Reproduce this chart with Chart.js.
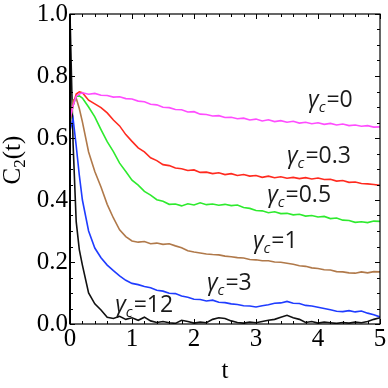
<!DOCTYPE html>
<html>
<head>
<meta charset="utf-8">
<script src="https://cdn.jsdelivr.net/npm/chart.js@4.4.1/dist/chart.umd.min.js"></script>
<style>
  html, body { margin: 0; padding: 0; background: #fff; }
  #wrap { width: 388px; height: 388px; }
</style>
</head>
<body>
<div id="wrap"><canvas id="c2-chart"></canvas></div>
<script>
// time axis (finer near t=0 where the curves peak)
const t = [0, 0.05, 0.1, 0.15, 0.2,
  0.3, 0.4, 0.5, 0.6, 0.7, 0.8, 0.9, 1.0,
  1.1, 1.2, 1.3, 1.4, 1.5, 1.6, 1.7, 1.8, 1.9, 2.0,
  2.1, 2.2, 2.3, 2.4, 2.5, 2.6, 2.7, 2.8, 2.9, 3.0,
  3.1, 3.2, 3.3, 3.4, 3.5, 3.6, 3.7, 3.8, 3.9, 4.0,
  4.1, 4.2, 4.3, 4.4, 4.5, 4.6, 4.7, 4.8, 4.9, 5.0];

const gamma0 = [0.66, 0.705, 0.735, 0.742, 0.746,
  0.741, 0.744, 0.738, 0.737, 0.732, 0.733, 0.727, 0.726,
  0.719, 0.717, 0.709, 0.707, 0.699, 0.698, 0.692, 0.691, 0.684, 0.685,
  0.677, 0.676, 0.671, 0.672, 0.666, 0.667, 0.662, 0.664, 0.658, 0.661,
  0.655, 0.659, 0.653, 0.656, 0.651, 0.654, 0.648, 0.651, 0.646, 0.649,
  0.644, 0.647, 0.642, 0.645, 0.640, 0.642, 0.638, 0.640, 0.635, 0.636];

const gamma03 = [0.66, 0.705, 0.742, 0.749, 0.746,
  0.722, 0.710, 0.698, 0.681, 0.658, 0.639, 0.611, 0.589,
  0.568, 0.555, 0.536, 0.527, 0.514, 0.511, 0.503, 0.501, 0.495, 0.497,
  0.489, 0.490, 0.485, 0.488, 0.482, 0.485, 0.479, 0.482, 0.477, 0.479,
  0.473, 0.477, 0.472, 0.475, 0.470, 0.473, 0.469, 0.472, 0.468, 0.471,
  0.466, 0.467, 0.461, 0.463, 0.457, 0.458, 0.453, 0.452, 0.450, 0.447];

const gamma05 = [0.655, 0.705, 0.735, 0.736, 0.729,
  0.700, 0.668, 0.627, 0.588, 0.556, 0.519, 0.492, 0.464,
  0.448, 0.428, 0.416, 0.401, 0.396, 0.386, 0.387, 0.381, 0.388, 0.384,
  0.391, 0.385, 0.387, 0.383, 0.386, 0.382, 0.384, 0.376, 0.373, 0.366,
  0.365, 0.359, 0.362, 0.356, 0.357, 0.352, 0.354, 0.348, 0.350, 0.345,
  0.347, 0.340, 0.342, 0.335, 0.334, 0.328, 0.330, 0.327, 0.332, 0.331];

const gamma1 = [0.645, 0.722, 0.728, 0.695, 0.652,
  0.555, 0.492, 0.442, 0.386, 0.342, 0.304, 0.282, 0.268,
  0.264, 0.266, 0.259, 0.261, 0.257, 0.259, 0.252, 0.246, 0.236, 0.232,
  0.229, 0.226, 0.224, 0.223, 0.219, 0.217, 0.214, 0.213, 0.208, 0.207,
  0.204, 0.204, 0.200, 0.199, 0.196, 0.193, 0.188, 0.186, 0.181, 0.179,
  0.175, 0.174, 0.169, 0.168, 0.165, 0.164, 0.168, 0.165, 0.169, 0.168];

const gamma3 = [0.625, 0.662, 0.575, 0.480, 0.400,
  0.300, 0.245, 0.214, 0.190, 0.172, 0.155, 0.141, 0.131,
  0.127, 0.121, 0.117, 0.109, 0.106, 0.099, 0.098, 0.090, 0.086, 0.080,
  0.079, 0.074, 0.077, 0.070, 0.069, 0.065, 0.063, 0.059, 0.058, 0.055,
  0.059, 0.062, 0.067, 0.068, 0.073, 0.067, 0.066, 0.060, 0.058, 0.054,
  0.050, 0.046, 0.041, 0.040, 0.043, 0.039, 0.042, 0.035, 0.030, 0.023];

const gamma12 = [1.0, 0.58, 0.33, 0.24, 0.19,
  0.100, 0.065, 0.045, 0.022, 0.018, 0.025, 0.015, 0.020,
  0.012, 0.022, 0.010, 0.005, 0.008, 0.004, 0.002, 0.012, 0.008, 0.003,
  0.006, 0.004, 0.015, 0.020, 0.018, 0.010, 0.005, 0.003, 0.006, 0.004,
  0.008, 0.012, 0.015, 0.022, 0.028, 0.020, 0.015, 0.005, 0.008, 0.003,
  0.006, 0.004, 0.002, 0.005, 0.003, 0.006, 0.004, 0.008, 0.015, 0.020];

const xTicks = [0, 1, 2, 3, 4, 5];
const yTicks = [0.0, 0.2, 0.4, 0.6, 0.8, 1.0];
const xTickLabels = ['0', '1', '2', '3', '4', '5'];
const yTickLabels = ['0.0', '0.2', '0.4', '0.6', '0.8', '1.0'];

// curve labels: gamma_c value and where its text starts (data coords)
const curveLabels = ['0', '0.3', '0.5', '1', '3', '12'];
const labelX = [3.84, 3.50, 3.18, 2.95, 2.21, 0.73];
const labelY = [0.700, 0.519, 0.394, 0.245, 0.110, 0.039];

const serif = '"Liberation Serif", "Times New Roman", serif';
const sans = '"Open Sans", "Noto Sans", sans-serif';

const toPoints = (ys) => ys.map((y, i) => ({ x: t[i], y: y }));

const series = [
  { label: 'gamma_c=0',   data: gamma0,  color: '#ff4dff' },
  { label: 'gamma_c=0.3', data: gamma03, color: '#ff2a1f' },
  { label: 'gamma_c=0.5', data: gamma05, color: '#2eea2e' },
  { label: 'gamma_c=1',   data: gamma1,  color: '#b0794a' },
  { label: 'gamma_c=3',   data: gamma3,  color: '#1f3cff' },
  { label: 'gamma_c=12',  data: gamma12, color: '#111111' }
];

// frame with inward ticks, like the Mathematica style
const framePlugin = {
  id: 'frame',
  afterDatasetsDraw(chart) {
    const { ctx, chartArea: a, scales: { x, y } } = chart;
    ctx.save();
    ctx.strokeStyle = '#000';
    ctx.lineWidth = 1.2;
    ctx.strokeRect(a.left, a.top, a.right - a.left, a.bottom - a.top);
    ctx.lineWidth = 2;
    ctx.beginPath();
    ctx.moveTo(a.left, a.top);
    ctx.lineTo(a.left, a.bottom);
    ctx.stroke();

    ctx.lineWidth = 1;
    ctx.beginPath();
    for (let k = 0; k <= 25; k++) {
      const v = k * 0.2;
      const px = Math.round(x.getPixelForValue(v)) + 0.5;
      const len = (k % 5 === 0) ? 5 : 3;
      ctx.moveTo(px, a.bottom); ctx.lineTo(px, a.bottom - len);
      ctx.moveTo(px, a.top); ctx.lineTo(px, a.top + len);
    }
    for (let k = 0; k <= 20; k++) {
      const v = k * 0.05;
      const py = Math.round(y.getPixelForValue(v)) + 0.5;
      const len = (k % 4 === 0) ? 5 : 3;
      ctx.moveTo(a.left, py); ctx.lineTo(a.left + len, py);
      ctx.moveTo(a.right, py); ctx.lineTo(a.right - len, py);
    }
    ctx.stroke();
    ctx.restore();
  },
  afterDraw(chart) {
    const { ctx, chartArea: a, scales: { x, y } } = chart;
    ctx.save();
    ctx.fillStyle = '#000';

    // tick labels
    ctx.font = '25px ' + serif;
    ctx.textAlign = 'right';
    ctx.textBaseline = 'middle';
    yTicks.forEach((v, i) => {
      ctx.fillText(yTickLabels[i], a.left - 2, y.getPixelForValue(v));
    });
    ctx.textAlign = 'center';
    ctx.textBaseline = 'alphabetic';
    xTicks.forEach((v, i) => {
      ctx.fillText(xTickLabels[i], x.getPixelForValue(v), 346);
    });

    // x title
    ctx.fillText('t', (a.left + a.right) / 2, 378);

    // y title C_2(t), rotated
    ctx.translate(20, 160);
    ctx.rotate(-Math.PI / 2);
    ctx.textAlign = 'left';
    const big = '25px ' + serif;
    const small = '17px ' + serif;
    ctx.font = big;
    const wC = ctx.measureText('C').width;
    ctx.font = small;
    const w2 = ctx.measureText('2').width;
    ctx.font = big;
    const wRest = ctx.measureText('(t)').width;
    let sx = -(wC + w2 + wRest) / 2;
    ctx.fillText('C', sx, 0);
    sx += wC;
    ctx.font = small;
    ctx.fillText('2', sx, 5);
    sx += w2;
    ctx.font = big;
    ctx.fillText('(t)', sx, 0);
    ctx.setTransform(1, 0, 0, 1, 0, 0);

    // curve labels
    ctx.fillStyle = '#1a1a1a';
    ctx.textAlign = 'left';
    curveLabels.forEach((val, i) => {
      let px = x.getPixelForValue(labelX[i]);
      const py = y.getPixelForValue(labelY[i]);
      ctx.font = 'italic 23px ' + sans;
      ctx.fillText('\u03b3', px, py);
      px += ctx.measureText('\u03b3').width;
      ctx.font = 'italic 15px ' + sans;
      ctx.fillText('c', px, py + 5);
      px += ctx.measureText('c').width + 1;
      ctx.font = '23px ' + sans;
      ctx.fillText('=' + val, px, py);
    });
    ctx.restore();
  }
};

new Chart(document.getElementById('c2-chart'), {
  type: 'line',
  data: {
    datasets: series.map(s => ({
      label: s.label,
      data: toPoints(s.data),
      borderColor: s.color,
      backgroundColor: s.color,
      borderWidth: 1.6,
      pointRadius: 0,
      tension: 0,
      fill: false
    }))
  },
  options: {
    responsive: true,
    maintainAspectRatio: false,
    animation: false,
    layout: { padding: { top: 14, right: 8, left: 0, bottom: 0 } },
    plugins: {
      legend: { display: false },
      tooltip: { enabled: false }
    },
    scales: {
      x: {
        type: 'linear',
        min: 0,
        max: 5,
        grid: { display: false, drawTicks: false },
        border: { display: false },
        afterBuildTicks: (scale) => { scale.ticks = xTicks.map(v => ({ value: v })); },
        afterFit: (scale) => { scale.height = 64; },
        ticks: { display: false }
      },
      y: {
        min: 0,
        max: 1,
        grid: { display: false, drawTicks: false },
        border: { display: false },
        afterBuildTicks: (scale) => { scale.ticks = yTicks.map(v => ({ value: v })); },
        afterFit: (scale) => { scale.width = 70; },
        ticks: { display: false }
      }
    }
  },
  plugins: [framePlugin]
});
</script>
</body>
</html>
